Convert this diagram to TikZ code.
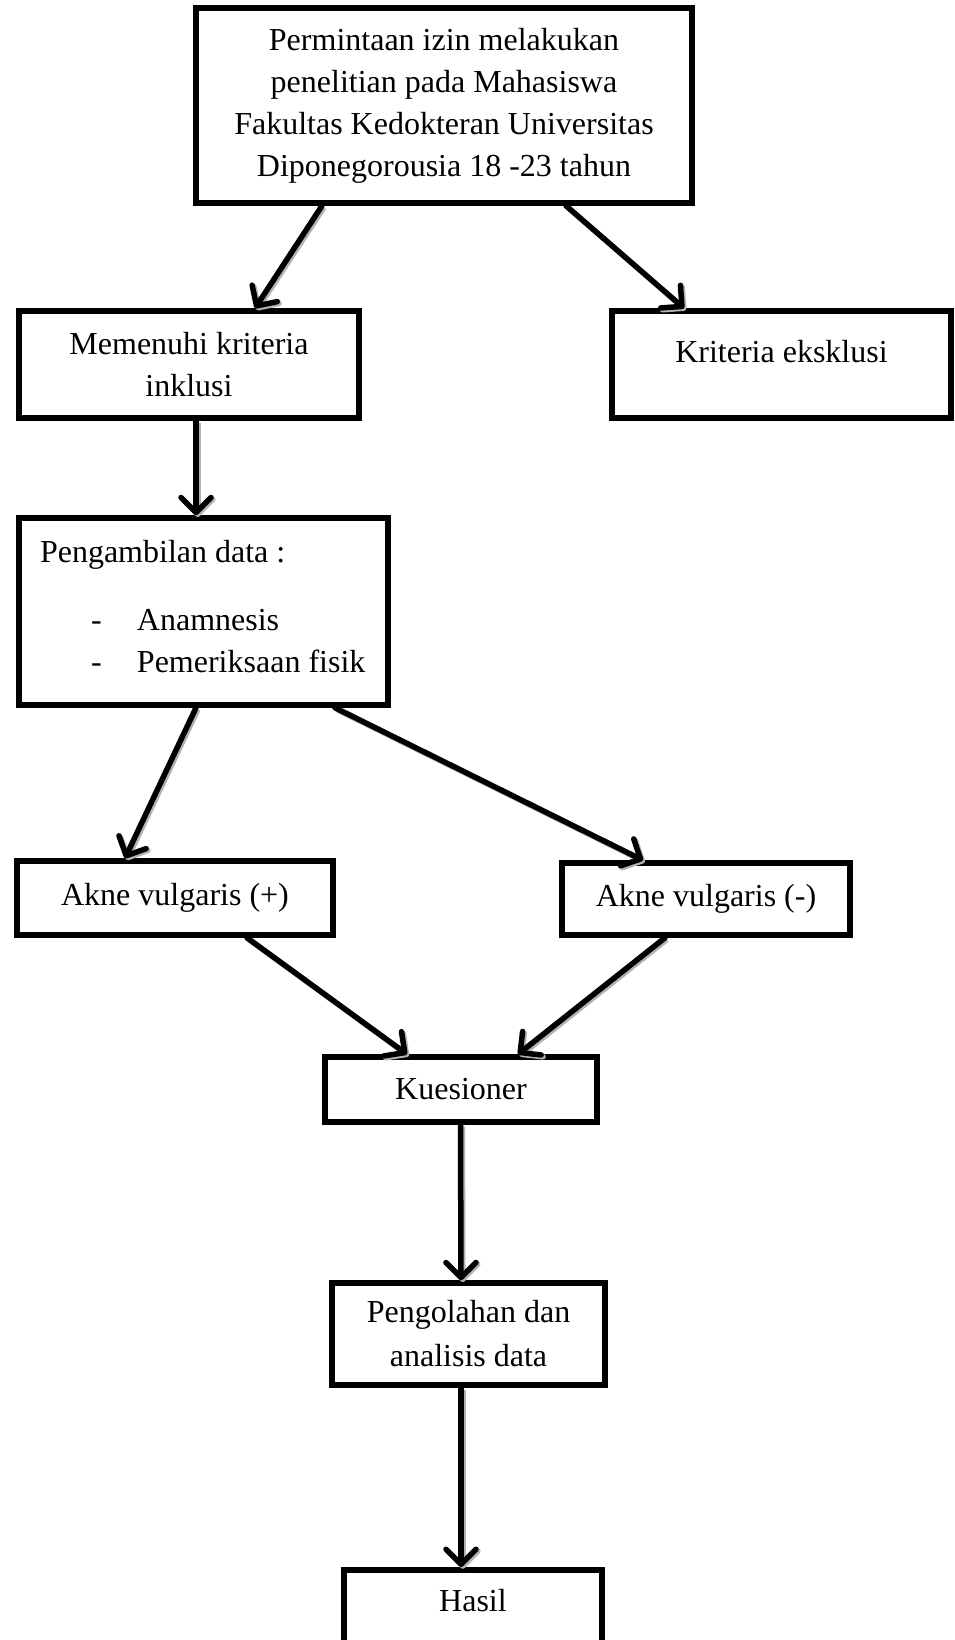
\documentclass[tikz,border=0pt]{standalone}
\usepackage{fontspec}
\setmainfont{Liberation Serif}
\usetikzlibrary{arrows.meta}
\begin{document}
\begin{tikzpicture}[x=1pt,y=-1pt,
  box/.style={draw, line width=5.5pt, rectangle, inner sep=0pt, align=center, font=\fontsize{32}{42}\selectfont},
  arr/.style={line width=5.5pt, line cap=round,
    -{Straight Barb[length=15pt,width=30pt,line cap=round,line join=round]},
    preaction={draw=black!30, line width=5.5pt, transform canvas={xshift=1.8pt,yshift=-1.8pt}}}
]
\useasboundingbox (0,0) rectangle (954,1640);
\fill[white] (0,0) rectangle (954,1640);
\clip (0,0) rectangle (954,1640);

\node[box, minimum width=496pt, minimum height=195pt] (top) at (444,105.5)
  {Permintaan izin melakukan\\penelitian pada Mahasiswa\\Fakultas Kedokteran Universitas\\Diponegorousia 18 -23 tahun};
\node[box, minimum width=340pt, minimum height=107pt] (mem) at (189,364.5)
  {Memenuhi kriteria\\inklusi};
\node[box, minimum width=339pt, minimum height=107pt, text height=22pt, text depth=27pt] (kri) at (781.5,364.5)
  {Kriteria eksklusi};
\node[box, minimum width=369pt, minimum height=187pt, text width=345pt, align=flush left] (pen) at (203.5,611.5)
  {\hspace*{9pt}Pengambilan data :\\[26pt]\hspace*{60pt}\makebox[46pt][l]{-}Anamnesis\\\hspace*{60pt}\makebox[46pt][l]{-}Pemeriksaan fisik\\[-32pt]\mbox{}};
\node[box, minimum width=316pt, minimum height=74pt] (akp) at (175,898) {Akne vulgaris (+)};
\node[box, minimum width=288pt, minimum height=72pt] (akm) at (706,899) {Akne vulgaris (-)};
\node[box, minimum width=272pt, minimum height=65pt] (kue) at (461,1089.5) {Kuesioner};
\node[box, minimum width=273pt, minimum height=102pt, font=\fontsize{32}{44}\selectfont] (peng) at (468.5,1334)
  {Pengolahan dan\\analisis data};
\node[box, anchor=north, minimum width=258pt, text height=22pt, text depth=90pt, inner ysep=20pt] (has) at (473,1567) {Hasil};

\draw[arr] ([xshift=-122pt]top.south) -- ([xshift=66pt]mem.north);
\draw[arr] ([xshift=122pt]top.south) -- ([xshift=-97.5pt]kri.north);
\draw[arr] ([xshift=7pt]mem.south) -- ([xshift=-7.5pt]pen.north);
\draw[arr] ([xshift=-7.5pt]pen.south) -- ([xshift=-50pt]akp.north);
\draw[arr] ([xshift=131.5pt]pen.south) -- ([xshift=-63pt]akm.north);
\draw[arr] ([xshift=72pt]akp.south) -- ([xshift=-54pt]kue.north);
\draw[arr] ([xshift=-41pt]akm.south) -- ([xshift=57pt]kue.north);
\draw[arr] ([xshift=-0.5pt]kue.south) -- ([xshift=-7.5pt]peng.north);
\draw[arr] ([xshift=-7.5pt]peng.south) -- ([xshift=-12pt]has.north);
\end{tikzpicture}
\end{document}
